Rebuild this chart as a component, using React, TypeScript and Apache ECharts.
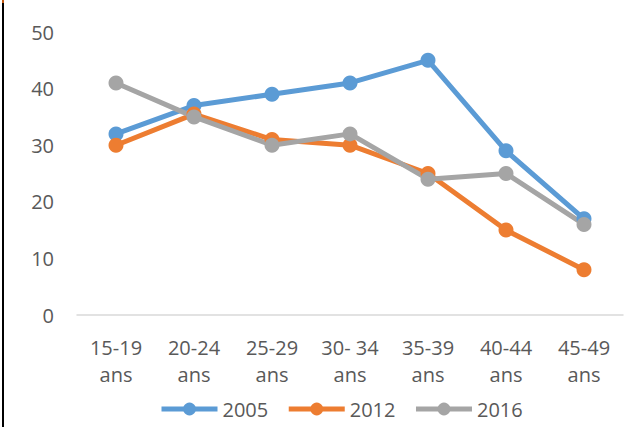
import React, { useEffect, useRef } from "react";
import * as echarts from "echarts";

const categories = ["15-19\nans", "20-24\nans", "25-29\nans", "30- 34\nans", "35-39\nans", "40-44\nans", "45-49\nans"];
const s2005 = [32, 37, 39, 41, 45, 29, 17];
const s2012 = [30, 35.5, 31, 30, 25, 15, 8];
const s2016 = [41, 35, 30, 32, 24, 25, 16];
const seriesNames = ["2005", "2012", "2016"];
const colors = ["#5B9BD5", "#ED7D31", "#A5A5A5"];

export default function App() {
  const ref = useRef<HTMLDivElement>(null);
  useEffect(() => {
    const chart = echarts.init(ref.current!, null, { renderer: "svg" });
    const font = "'Open Sans', sans-serif";
    const mk = (name: string, data: number[], color: string) => ({
      name,
      type: "line",
      data,
      color,
      symbol: "circle",
      symbolSize: 15,
      lineStyle: { width: 5, color },
      itemStyle: { color },
    });
    chart.setOption({
      animation: false,
      backgroundColor: "#fff",
      grid: { left: 77, right: 6, top: 32, bottom: 112 },
      xAxis: {
        type: "category",
        data: categories,
        axisLine: { lineStyle: { color: "#D9D9D9", width: 1.5 } },
        axisTick: { show: false },
        axisLabel: { color: "#595959", fontSize: 20, fontFamily: font, lineHeight: 27, margin: 19 },
      },
      yAxis: {
        type: "value",
        min: 0,
        max: 50,
        interval: 10,
        splitLine: { show: false },
        axisLine: { show: false },
        axisTick: { show: false },
        axisLabel: { color: "#595959", fontSize: 20, fontFamily: font, margin: 23 },
      },
      legend: {
        bottom: 3,
        left: 154,
        itemWidth: 56,
        itemHeight: 16,
        itemGap: 18,
        lineStyle: { width: 5 },
        textStyle: { color: "#595959", fontSize: 20, fontFamily: font },
        data: seriesNames,
      },
      graphic: [
        { type: "rect", shape: { x: 2, y: 0, width: 2, height: 427 }, style: { fill: "#000" } },
        { type: "rect", shape: { x: 2, y: 0, width: 2, height: 3 }, style: { fill: "#C55A11" } },
      ],
      series: [
        mk(seriesNames[0], s2005, colors[0]),
        mk(seriesNames[1], s2012, colors[1]),
        mk(seriesNames[2], s2016, colors[2]),
      ],
    });
    return () => chart.dispose();
  }, []);
  return <div ref={ref} style={{ width: 629, height: 427, position: "fixed", left: 0, top: 0 }} />;
}
